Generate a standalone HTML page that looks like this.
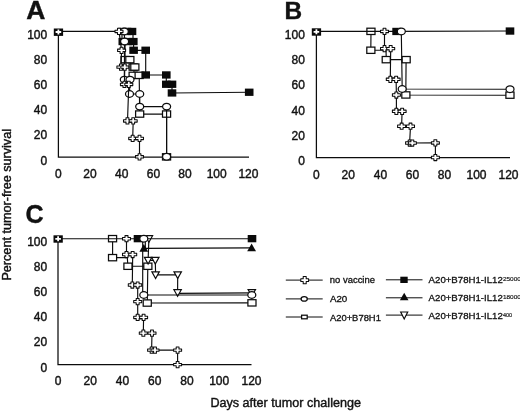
<!DOCTYPE html>
<html><head><meta charset="utf-8"><title>Figure</title>
<style>
html,body{margin:0;padding:0;background:#fff;}
body{width:520px;height:411px;overflow:hidden;}
svg{display:block;will-change:transform;}
svg text{font-family:"Liberation Sans",sans-serif;fill:#111;stroke:#111;stroke-width:0.4px;}
</style></head><body>
<svg width="520" height="411" viewBox="0 0 520 411">
<rect width="520" height="411" fill="#fff"/>
<polyline points="58.4,31.4 58.4,157.0 249.0,157.0" fill="none" stroke="#0c0c0c" stroke-width="1.25"/>
<polyline points="316.4,31.4 316.4,157.6 510.0,157.6" fill="none" stroke="#0c0c0c" stroke-width="1.25"/>
<polyline points="58.0,238.7 58.0,364.6 251.5,364.6" fill="none" stroke="#0c0c0c" stroke-width="1.25"/>
<polyline points="122.0,31.4 122.0,41.5 125.0,41.5 125.0,59.6 129.8,59.6 131.5,67.1 133.2,67.1 134.8,67.1 133.2,75.4 139.2,75.4 139.7,114.1 166.6,114.1 166.6,156.8" fill="none" stroke="#0c0c0c" stroke-width="1.15"/>
<rect x="121.0" y="56.5" width="8.1" height="6.3" fill="#fff" stroke="#0c0c0c" stroke-width="1.25"/><rect x="125.8" y="56.5" width="8.1" height="6.3" fill="#fff" stroke="#0c0c0c" stroke-width="1.25"/><rect x="129.1" y="63.9" width="8.1" height="6.3" fill="#fff" stroke="#0c0c0c" stroke-width="1.25"/><rect x="130.8" y="63.9" width="8.1" height="6.3" fill="#fff" stroke="#0c0c0c" stroke-width="1.25"/><rect x="129.1" y="72.2" width="8.1" height="6.3" fill="#fff" stroke="#0c0c0c" stroke-width="1.25"/><rect x="135.1" y="72.2" width="8.1" height="6.3" fill="#fff" stroke="#0c0c0c" stroke-width="1.25"/><rect x="135.6" y="110.9" width="8.1" height="6.3" fill="#fff" stroke="#0c0c0c" stroke-width="1.25"/><rect x="162.5" y="110.9" width="8.1" height="6.3" fill="#fff" stroke="#0c0c0c" stroke-width="1.25"/><rect x="162.5" y="153.7" width="8.1" height="6.3" fill="#fff" stroke="#0c0c0c" stroke-width="1.25"/>
<polyline points="58.4,31.4 122.5,31.4 127.0,31.4 132.0,31.4 133.0,31.4 133.0,41.5 133.6,41.5 133.6,50.3 145.7,50.3 145.7,75.0 166.3,75.0 166.3,84.3 172.0,84.3 172.0,93.0 249.2,92.3" fill="none" stroke="#0c0c0c" stroke-width="1.15"/>
<rect x="118.2" y="27.8" width="8.6" height="7.3" fill="#0a0a0a"/><rect x="122.7" y="27.8" width="8.6" height="7.3" fill="#0a0a0a"/><rect x="127.7" y="27.8" width="8.6" height="7.3" fill="#0a0a0a"/><rect x="118.5" y="37.9" width="8.6" height="7.3" fill="#0a0a0a"/><rect x="123.2" y="37.9" width="8.6" height="7.3" fill="#0a0a0a"/><rect x="129.0" y="37.9" width="8.6" height="7.3" fill="#0a0a0a"/><rect x="129.3" y="46.6" width="8.6" height="7.3" fill="#0a0a0a"/><rect x="141.4" y="46.6" width="8.6" height="7.3" fill="#0a0a0a"/><rect x="141.4" y="71.3" width="8.6" height="7.3" fill="#0a0a0a"/><rect x="162.0" y="71.3" width="8.6" height="7.3" fill="#0a0a0a"/><rect x="162.0" y="80.6" width="8.6" height="7.3" fill="#0a0a0a"/><rect x="167.7" y="80.6" width="8.6" height="7.3" fill="#0a0a0a"/><rect x="167.7" y="89.3" width="8.6" height="7.3" fill="#0a0a0a"/><rect x="244.9" y="88.6" width="8.6" height="7.3" fill="#0a0a0a"/>
<polyline points="124.3,31.4 124.6,41.5 124.3,79.6 130.0,79.6 129.5,94.0 139.7,94.0 139.7,106.6 166.6,106.6 166.6,156.8" fill="none" stroke="#0c0c0c" stroke-width="1.15"/>
<ellipse cx="124.3" cy="31.4" rx="4.00" ry="3.35" fill="#fff" stroke="#0c0c0c" stroke-width="1.25"/><ellipse cx="124.6" cy="41.5" rx="4.00" ry="3.35" fill="#fff" stroke="#0c0c0c" stroke-width="1.25"/><ellipse cx="124.3" cy="79.6" rx="4.00" ry="3.35" fill="#fff" stroke="#0c0c0c" stroke-width="1.25"/><ellipse cx="130.0" cy="79.6" rx="4.00" ry="3.35" fill="#fff" stroke="#0c0c0c" stroke-width="1.25"/><ellipse cx="129.5" cy="94.0" rx="4.00" ry="3.35" fill="#fff" stroke="#0c0c0c" stroke-width="1.25"/><ellipse cx="139.7" cy="94.0" rx="4.00" ry="3.35" fill="#fff" stroke="#0c0c0c" stroke-width="1.25"/><ellipse cx="139.7" cy="106.6" rx="4.00" ry="3.35" fill="#fff" stroke="#0c0c0c" stroke-width="1.25"/><ellipse cx="166.6" cy="106.6" rx="4.00" ry="3.35" fill="#fff" stroke="#0c0c0c" stroke-width="1.25"/><ellipse cx="166.6" cy="156.8" rx="4.00" ry="3.35" fill="#fff" stroke="#0c0c0c" stroke-width="1.25"/>
<polyline points="119.0,31.4 121.6,50.3 120.9,67.1 124.8,67.1 124.4,84.4 128.8,84.4 127.5,120.9 133.2,120.9 132.7,138.4 139.5,138.4 139.5,156.8" fill="none" stroke="#0c0c0c" stroke-width="1.15"/>
<polygon points="117.5,28.3 120.5,28.3 120.5,30.2 123.0,30.2 123.0,32.6 120.5,32.6 120.5,34.5 117.5,34.5 117.5,32.6 115.0,32.6 115.0,30.2 117.5,30.2" fill="#fff" stroke="#0c0c0c" stroke-width="1.05" stroke-linejoin="round"/><polygon points="120.1,47.2 123.0,47.2 123.0,49.1 125.6,49.1 125.6,51.5 123.0,51.5 123.0,53.4 120.1,53.4 120.1,51.5 117.6,51.5 117.6,49.1 120.1,49.1" fill="#fff" stroke="#0c0c0c" stroke-width="1.05" stroke-linejoin="round"/><polygon points="119.5,64.0 122.4,64.0 122.4,65.9 124.9,65.9 124.9,68.3 122.4,68.3 122.4,70.2 119.5,70.2 119.5,68.3 116.9,68.3 116.9,65.9 119.5,65.9" fill="#fff" stroke="#0c0c0c" stroke-width="1.05" stroke-linejoin="round"/><polygon points="123.3,64.0 126.2,64.0 126.2,65.9 128.8,65.9 128.8,68.3 126.2,68.3 126.2,70.2 123.3,70.2 123.3,68.3 120.8,68.3 120.8,65.9 123.3,65.9" fill="#fff" stroke="#0c0c0c" stroke-width="1.05" stroke-linejoin="round"/><polygon points="123.0,81.3 125.9,81.3 125.9,83.2 128.4,83.2 128.4,85.6 125.9,85.6 125.9,87.5 123.0,87.5 123.0,85.6 120.4,85.6 120.4,83.2 123.0,83.2" fill="#fff" stroke="#0c0c0c" stroke-width="1.05" stroke-linejoin="round"/><polygon points="127.4,81.3 130.2,81.3 130.2,83.2 132.8,83.2 132.8,85.6 130.2,85.6 130.2,87.5 127.4,87.5 127.4,85.6 124.8,85.6 124.8,83.2 127.4,83.2" fill="#fff" stroke="#0c0c0c" stroke-width="1.05" stroke-linejoin="round"/><polygon points="126.0,117.8 128.9,117.8 128.9,119.7 131.5,119.7 131.5,122.1 128.9,122.1 128.9,124.0 126.0,124.0 126.0,122.1 123.5,122.1 123.5,119.7 126.0,119.7" fill="#fff" stroke="#0c0c0c" stroke-width="1.05" stroke-linejoin="round"/><polygon points="131.8,117.8 134.6,117.8 134.6,119.7 137.2,119.7 137.2,122.1 134.6,122.1 134.6,124.0 131.8,124.0 131.8,122.1 129.2,122.1 129.2,119.7 131.8,119.7" fill="#fff" stroke="#0c0c0c" stroke-width="1.05" stroke-linejoin="round"/><polygon points="131.2,135.3 134.1,135.3 134.1,137.2 136.7,137.2 136.7,139.6 134.1,139.6 134.1,141.5 131.2,141.5 131.2,139.6 128.7,139.6 128.7,137.2 131.2,137.2" fill="#fff" stroke="#0c0c0c" stroke-width="1.05" stroke-linejoin="round"/><polygon points="138.1,135.3 140.9,135.3 140.9,137.2 143.5,137.2 143.5,139.6 140.9,139.6 140.9,141.5 138.1,141.5 138.1,139.6 135.5,139.6 135.5,137.2 138.1,137.2" fill="#fff" stroke="#0c0c0c" stroke-width="1.05" stroke-linejoin="round"/><polygon points="138.1,153.7 140.9,153.7 140.9,155.6 143.5,155.6 143.5,158.0 140.9,158.0 140.9,159.9 138.1,159.9 138.1,158.0 135.5,158.0 135.5,155.6 138.1,155.6" fill="#fff" stroke="#0c0c0c" stroke-width="1.05" stroke-linejoin="round"/>
<polyline points="371.0,31.4 370.8,50.2 386.0,50.2 386.3,59.6 406.1,59.6 405.8,95.0 510.0,95.2" fill="none" stroke="#0c0c0c" stroke-width="1.15"/>
<rect x="366.9" y="28.2" width="8.1" height="6.3" fill="#fff" stroke="#0c0c0c" stroke-width="1.25"/><rect x="366.8" y="47.1" width="8.1" height="6.3" fill="#fff" stroke="#0c0c0c" stroke-width="1.25"/><rect x="382.2" y="56.5" width="8.1" height="6.3" fill="#fff" stroke="#0c0c0c" stroke-width="1.25"/><rect x="402.1" y="56.5" width="8.1" height="6.3" fill="#fff" stroke="#0c0c0c" stroke-width="1.25"/><rect x="401.8" y="91.8" width="8.1" height="6.3" fill="#fff" stroke="#0c0c0c" stroke-width="1.25"/><rect x="505.9" y="92.0" width="8.1" height="6.3" fill="#fff" stroke="#0c0c0c" stroke-width="1.25"/>
<polyline points="316.4,31.4 396.6,31.4 510.0,31.0" fill="none" stroke="#0c0c0c" stroke-width="1.15"/>
<rect x="392.3" y="27.8" width="8.6" height="7.3" fill="#0a0a0a"/><rect x="505.7" y="27.4" width="8.6" height="7.3" fill="#0a0a0a"/>
<polyline points="401.3,31.4 402.2,89.0 510.0,89.2" fill="none" stroke="#0c0c0c" stroke-width="1.15"/>
<ellipse cx="401.3" cy="31.4" rx="4.00" ry="3.35" fill="#fff" stroke="#0c0c0c" stroke-width="1.25"/><ellipse cx="402.2" cy="89.0" rx="4.00" ry="3.35" fill="#fff" stroke="#0c0c0c" stroke-width="1.25"/><ellipse cx="510.0" cy="89.2" rx="4.00" ry="3.35" fill="#fff" stroke="#0c0c0c" stroke-width="1.25"/>
<polyline points="384.5,31.4 384.5,48.6 390.7,48.6 390.3,79.3 396.1,79.3 396.4,95.0 396.4,111.3 402.1,111.3 401.6,126.2 410.5,126.2 409.6,143.0 435.4,142.9 435.4,157.5" fill="none" stroke="#0c0c0c" stroke-width="1.15"/>
<polygon points="383.1,28.3 385.9,28.3 385.9,30.2 388.5,30.2 388.5,32.6 385.9,32.6 385.9,34.5 383.1,34.5 383.1,32.6 380.5,32.6 380.5,30.2 383.1,30.2" fill="#fff" stroke="#0c0c0c" stroke-width="1.05" stroke-linejoin="round"/><polygon points="383.1,45.5 385.9,45.5 385.9,47.4 388.5,47.4 388.5,49.8 385.9,49.8 385.9,51.7 383.1,51.7 383.1,49.8 380.5,49.8 380.5,47.4 383.1,47.4" fill="#fff" stroke="#0c0c0c" stroke-width="1.05" stroke-linejoin="round"/><polygon points="389.2,45.5 392.1,45.5 392.1,47.4 394.7,47.4 394.7,49.8 392.1,49.8 392.1,51.7 389.2,51.7 389.2,49.8 386.7,49.8 386.7,47.4 389.2,47.4" fill="#fff" stroke="#0c0c0c" stroke-width="1.05" stroke-linejoin="round"/><polygon points="388.9,76.2 391.8,76.2 391.8,78.1 394.3,78.1 394.3,80.5 391.8,80.5 391.8,82.4 388.9,82.4 388.9,80.5 386.3,80.5 386.3,78.1 388.9,78.1" fill="#fff" stroke="#0c0c0c" stroke-width="1.05" stroke-linejoin="round"/><polygon points="394.7,76.2 397.6,76.2 397.6,78.1 400.1,78.1 400.1,80.5 397.6,80.5 397.6,82.4 394.7,82.4 394.7,80.5 392.1,80.5 392.1,78.1 394.7,78.1" fill="#fff" stroke="#0c0c0c" stroke-width="1.05" stroke-linejoin="round"/><polygon points="394.9,91.9 397.8,91.9 397.8,93.8 400.4,93.8 400.4,96.2 397.8,96.2 397.8,98.1 394.9,98.1 394.9,96.2 392.4,96.2 392.4,93.8 394.9,93.8" fill="#fff" stroke="#0c0c0c" stroke-width="1.05" stroke-linejoin="round"/><polygon points="394.9,108.2 397.8,108.2 397.8,110.1 400.4,110.1 400.4,112.5 397.8,112.5 397.8,114.4 394.9,114.4 394.9,112.5 392.4,112.5 392.4,110.1 394.9,110.1" fill="#fff" stroke="#0c0c0c" stroke-width="1.05" stroke-linejoin="round"/><polygon points="400.7,108.2 403.6,108.2 403.6,110.1 406.1,110.1 406.1,112.5 403.6,112.5 403.6,114.4 400.7,114.4 400.7,112.5 398.1,112.5 398.1,110.1 400.7,110.1" fill="#fff" stroke="#0c0c0c" stroke-width="1.05" stroke-linejoin="round"/><polygon points="400.2,123.1 403.1,123.1 403.1,125.0 405.6,125.0 405.6,127.4 403.1,127.4 403.1,129.3 400.2,129.3 400.2,127.4 397.6,127.4 397.6,125.0 400.2,125.0" fill="#fff" stroke="#0c0c0c" stroke-width="1.05" stroke-linejoin="round"/><polygon points="409.1,123.1 411.9,123.1 411.9,125.0 414.5,125.0 414.5,127.4 411.9,127.4 411.9,129.3 409.1,129.3 409.1,127.4 406.5,127.4 406.5,125.0 409.1,125.0" fill="#fff" stroke="#0c0c0c" stroke-width="1.05" stroke-linejoin="round"/><polygon points="408.2,139.9 411.1,139.9 411.1,141.8 413.6,141.8 413.6,144.2 411.1,144.2 411.1,146.1 408.2,146.1 408.2,144.2 405.6,144.2 405.6,141.8 408.2,141.8" fill="#fff" stroke="#0c0c0c" stroke-width="1.05" stroke-linejoin="round"/><polygon points="410.9,139.9 413.8,139.9 413.8,141.8 416.4,141.8 416.4,144.2 413.8,144.2 413.8,146.1 410.9,146.1 410.9,144.2 408.4,144.2 408.4,141.8 410.9,141.8" fill="#fff" stroke="#0c0c0c" stroke-width="1.05" stroke-linejoin="round"/><polygon points="433.9,139.8 436.8,139.8 436.8,141.7 439.4,141.7 439.4,144.1 436.8,144.1 436.8,146.0 433.9,146.0 433.9,144.1 431.4,144.1 431.4,141.7 433.9,141.7" fill="#fff" stroke="#0c0c0c" stroke-width="1.05" stroke-linejoin="round"/><polygon points="433.9,154.4 436.8,154.4 436.8,156.3 439.4,156.3 439.4,158.7 436.8,158.7 436.8,160.6 433.9,160.6 433.9,158.7 431.4,158.7 431.4,156.3 433.9,156.3" fill="#fff" stroke="#0c0c0c" stroke-width="1.05" stroke-linejoin="round"/>
<polyline points="112.6,238.7 112.6,257.6 127.3,257.6 127.9,266.2 147.8,266.2 147.3,303.0 252.0,302.8" fill="none" stroke="#0c0c0c" stroke-width="1.15"/>
<rect x="108.5" y="235.5" width="8.1" height="6.3" fill="#fff" stroke="#0c0c0c" stroke-width="1.25"/><rect x="108.5" y="254.5" width="8.1" height="6.3" fill="#fff" stroke="#0c0c0c" stroke-width="1.25"/><rect x="123.9" y="263.1" width="8.1" height="6.3" fill="#fff" stroke="#0c0c0c" stroke-width="1.25"/><rect x="143.8" y="263.1" width="8.1" height="6.3" fill="#fff" stroke="#0c0c0c" stroke-width="1.25"/><rect x="143.2" y="299.9" width="8.1" height="6.3" fill="#fff" stroke="#0c0c0c" stroke-width="1.25"/><rect x="247.9" y="299.7" width="8.1" height="6.3" fill="#fff" stroke="#0c0c0c" stroke-width="1.25"/>
<polyline points="148.9,238.7 148.1,260.4 155.3,260.4 155.6,274.9 177.7,274.9 177.6,293.3 252.0,292.9" fill="none" stroke="#0c0c0c" stroke-width="1.15"/>
<polygon points="145.2,235.7 152.6,235.7 148.9,242.3" fill="#fff" stroke="#0c0c0c" stroke-width="1.2"/><polygon points="144.4,257.4 151.8,257.4 148.1,264.0" fill="#fff" stroke="#0c0c0c" stroke-width="1.2"/><polygon points="151.6,257.4 159.0,257.4 155.3,264.0" fill="#fff" stroke="#0c0c0c" stroke-width="1.2"/><polygon points="151.9,271.9 159.3,271.9 155.6,278.5" fill="#fff" stroke="#0c0c0c" stroke-width="1.2"/><polygon points="174.0,271.9 181.4,271.9 177.7,278.5" fill="#fff" stroke="#0c0c0c" stroke-width="1.2"/><polygon points="173.9,289.7 181.3,289.7 177.6,296.3" fill="#fff" stroke="#0c0c0c" stroke-width="1.2"/><polygon points="248.1,289.6 255.5,289.6 251.8,296.2" fill="#fff" stroke="#0c0c0c" stroke-width="1.2"/>
<polyline points="58.0,238.7 138.0,238.7 252.0,238.7" fill="none" stroke="#0c0c0c" stroke-width="1.15"/>
<rect x="133.7" y="235.0" width="8.6" height="7.3" fill="#0a0a0a"/><rect x="247.7" y="235.0" width="8.6" height="7.3" fill="#0a0a0a"/>
<polyline points="145.3,238.7 145.3,248.3 251.6,247.8" fill="none" stroke="#0c0c0c" stroke-width="1.15"/>
<polygon points="143.8,244.1 148.2,251.7 139.4,251.7" fill="#0a0a0a"/><polygon points="251.6,243.6 256.0,251.2 247.2,251.2" fill="#0a0a0a"/>
<polyline points="142.7,238.7 142.7,295.0 251.8,295.0" fill="none" stroke="#0c0c0c" stroke-width="1.15"/>
<ellipse cx="143.8" cy="238.7" rx="4.00" ry="3.35" fill="#fff" stroke="#0c0c0c" stroke-width="1.25"/><ellipse cx="143.8" cy="295.0" rx="4.00" ry="3.35" fill="#fff" stroke="#0c0c0c" stroke-width="1.25"/><ellipse cx="251.8" cy="295.0" rx="4.00" ry="3.35" fill="#fff" stroke="#0c0c0c" stroke-width="1.25"/>
<polyline points="126.5,238.7 126.5,254.5 132.7,254.5 132.3,285.0 137.7,285.0 137.7,301.6 137.7,317.4 143.6,317.4 143.3,333.1 152.0,333.1 151.6,350.1 177.6,350.1 177.6,364.6" fill="none" stroke="#0c0c0c" stroke-width="1.15"/>
<polygon points="125.0,235.6 128.0,235.6 128.0,237.5 130.5,237.5 130.5,239.9 128.0,239.9 128.0,241.8 125.0,241.8 125.0,239.9 122.5,239.9 122.5,237.5 125.0,237.5" fill="#fff" stroke="#0c0c0c" stroke-width="1.05" stroke-linejoin="round"/><polygon points="125.0,251.4 128.0,251.4 128.0,253.3 130.5,253.3 130.5,255.7 128.0,255.7 128.0,257.6 125.0,257.6 125.0,255.7 122.5,255.7 122.5,253.3 125.0,253.3" fill="#fff" stroke="#0c0c0c" stroke-width="1.05" stroke-linejoin="round"/><polygon points="131.2,251.4 134.1,251.4 134.1,253.3 136.7,253.3 136.7,255.7 134.1,255.7 134.1,257.6 131.2,257.6 131.2,255.7 128.7,255.7 128.7,253.3 131.2,253.3" fill="#fff" stroke="#0c0c0c" stroke-width="1.05" stroke-linejoin="round"/><polygon points="130.9,281.9 133.8,281.9 133.8,283.8 136.3,283.8 136.3,286.2 133.8,286.2 133.8,288.1 130.9,288.1 130.9,286.2 128.3,286.2 128.3,283.8 130.9,283.8" fill="#fff" stroke="#0c0c0c" stroke-width="1.05" stroke-linejoin="round"/><polygon points="136.2,281.9 139.1,281.9 139.1,283.8 141.7,283.8 141.7,286.2 139.1,286.2 139.1,288.1 136.2,288.1 136.2,286.2 133.7,286.2 133.7,283.8 136.2,283.8" fill="#fff" stroke="#0c0c0c" stroke-width="1.05" stroke-linejoin="round"/><polygon points="136.2,298.5 139.1,298.5 139.1,300.4 141.7,300.4 141.7,302.8 139.1,302.8 139.1,304.7 136.2,304.7 136.2,302.8 133.7,302.8 133.7,300.4 136.2,300.4" fill="#fff" stroke="#0c0c0c" stroke-width="1.05" stroke-linejoin="round"/><polygon points="136.2,314.3 139.1,314.3 139.1,316.2 141.7,316.2 141.7,318.6 139.1,318.6 139.1,320.5 136.2,320.5 136.2,318.6 133.7,318.6 133.7,316.2 136.2,316.2" fill="#fff" stroke="#0c0c0c" stroke-width="1.05" stroke-linejoin="round"/><polygon points="142.2,314.3 145.0,314.3 145.0,316.2 147.6,316.2 147.6,318.6 145.0,318.6 145.0,320.5 142.2,320.5 142.2,318.6 139.6,318.6 139.6,316.2 142.2,316.2" fill="#fff" stroke="#0c0c0c" stroke-width="1.05" stroke-linejoin="round"/><polygon points="141.9,330.0 144.8,330.0 144.8,331.9 147.3,331.9 147.3,334.3 144.8,334.3 144.8,336.2 141.9,336.2 141.9,334.3 139.3,334.3 139.3,331.9 141.9,331.9" fill="#fff" stroke="#0c0c0c" stroke-width="1.05" stroke-linejoin="round"/><polygon points="150.6,330.0 153.4,330.0 153.4,331.9 156.0,331.9 156.0,334.3 153.4,334.3 153.4,336.2 150.6,336.2 150.6,334.3 148.0,334.3 148.0,331.9 150.6,331.9" fill="#fff" stroke="#0c0c0c" stroke-width="1.05" stroke-linejoin="round"/><polygon points="150.2,347.0 153.0,347.0 153.0,348.9 155.6,348.9 155.6,351.3 153.0,351.3 153.0,353.2 150.2,353.2 150.2,351.3 147.6,351.3 147.6,348.9 150.2,348.9" fill="#fff" stroke="#0c0c0c" stroke-width="1.05" stroke-linejoin="round"/><polygon points="153.6,347.0 156.4,347.0 156.4,348.9 159.0,348.9 159.0,351.3 156.4,351.3 156.4,353.2 153.6,353.2 153.6,351.3 151.0,351.3 151.0,348.9 153.6,348.9" fill="#fff" stroke="#0c0c0c" stroke-width="1.05" stroke-linejoin="round"/><polygon points="176.2,347.0 179.0,347.0 179.0,348.9 181.6,348.9 181.6,351.3 179.0,351.3 179.0,353.2 176.2,353.2 176.2,351.3 173.6,351.3 173.6,348.9 176.2,348.9" fill="#fff" stroke="#0c0c0c" stroke-width="1.05" stroke-linejoin="round"/><polygon points="176.2,361.5 179.0,361.5 179.0,363.4 181.6,363.4 181.6,365.8 179.0,365.8 179.0,367.7 176.2,367.7 176.2,365.8 173.6,365.8 173.6,363.4 176.2,363.4" fill="#fff" stroke="#0c0c0c" stroke-width="1.05" stroke-linejoin="round"/>
<rect x="53.8" y="28.5" width="9.3" height="7.4" fill="#0a0a0a"/>
<path d="M55.6 32.0h5.6M58.4 29.5v5" stroke="#fff" stroke-width="1.8" fill="none"/>
<rect x="311.8" y="28.3" width="9.3" height="7.4" fill="#0a0a0a"/>
<path d="M313.6 31.8h5.6M316.4 29.3v5" stroke="#fff" stroke-width="1.8" fill="none"/>
<rect x="53.5" y="235.3" width="9.3" height="7.4" fill="#0a0a0a"/>
<path d="M55.3 238.8h5.6M58.1 236.3v5" stroke="#fff" stroke-width="1.8" fill="none"/>
<line x1="285.8" y1="280.1" x2="322.7" y2="280.1" stroke="#0c0c0c" stroke-width="1"/>
<polygon points="303.2,276.5 306.2,276.5 306.2,278.7 308.6,278.7 308.6,281.5 306.2,281.5 306.2,283.7 303.2,283.7 303.2,281.5 300.8,281.5 300.8,278.7 303.2,278.7" fill="#fff" stroke="#0c0c0c" stroke-width="1.05" stroke-linejoin="round"/>
<line x1="285.8" y1="298.9" x2="322.7" y2="298.9" stroke="#0c0c0c" stroke-width="1"/>
<ellipse cx="304.2" cy="298.9" rx="3.10" ry="2.20" fill="#fff" stroke="#0c0c0c" stroke-width="1.25"/>
<line x1="285.8" y1="317.0" x2="322.7" y2="317.0" stroke="#0c0c0c" stroke-width="1"/>
<rect x="301.6" y="315.2" width="5.6" height="3.6" fill="#fff" stroke="#0c0c0c" stroke-width="1.25"/>
<line x1="385.9" y1="279.8" x2="422.5" y2="279.8" stroke="#0c0c0c" stroke-width="1"/>
<rect x="400.3" y="276.7" width="7.4" height="6.3" fill="#0a0a0a"/>
<line x1="385.9" y1="297.8" x2="422.5" y2="297.8" stroke="#0c0c0c" stroke-width="1"/>
<polygon points="404.2,292.8 408.5,300.2 399.9,300.2" fill="#0a0a0a"/>
<line x1="385.9" y1="315.1" x2="422.5" y2="315.1" stroke="#0c0c0c" stroke-width="1"/>
<polygon points="400.7,312.0 407.7,312.0 404.2,319.0" fill="#fff" stroke="#0c0c0c" stroke-width="1.2"/>
<text x="47.2" y="164.6" font-size="12.00" text-anchor="end" font-weight="normal" >0</text>
<text x="47.2" y="139.4" font-size="12.00" text-anchor="end" font-weight="normal" >20</text>
<text x="47.2" y="114.3" font-size="12.00" text-anchor="end" font-weight="normal" >40</text>
<text x="47.2" y="89.1" font-size="12.00" text-anchor="end" font-weight="normal" >60</text>
<text x="47.2" y="64.0" font-size="12.00" text-anchor="end" font-weight="normal" >80</text>
<text x="47.2" y="38.8" font-size="12.00" text-anchor="end" font-weight="normal" >100</text>
<text x="304.9" y="165.4" font-size="12.00" text-anchor="end" font-weight="normal" >0</text>
<text x="304.9" y="140.1" font-size="12.00" text-anchor="end" font-weight="normal" >20</text>
<text x="304.9" y="114.8" font-size="12.00" text-anchor="end" font-weight="normal" >40</text>
<text x="304.9" y="89.4" font-size="12.00" text-anchor="end" font-weight="normal" >60</text>
<text x="304.9" y="64.1" font-size="12.00" text-anchor="end" font-weight="normal" >80</text>
<text x="304.9" y="38.8" font-size="12.00" text-anchor="end" font-weight="normal" >100</text>
<text x="47.2" y="371.6" font-size="12.00" text-anchor="end" font-weight="normal" >0</text>
<text x="47.2" y="346.4" font-size="12.00" text-anchor="end" font-weight="normal" >20</text>
<text x="47.2" y="321.2" font-size="12.00" text-anchor="end" font-weight="normal" >40</text>
<text x="47.2" y="296.1" font-size="12.00" text-anchor="end" font-weight="normal" >60</text>
<text x="47.2" y="270.9" font-size="12.00" text-anchor="end" font-weight="normal" >80</text>
<text x="47.2" y="245.7" font-size="12.00" text-anchor="end" font-weight="normal" >100</text>
<text x="58.3" y="177.6" font-size="12.00" text-anchor="middle" font-weight="normal" >0</text>
<text x="90.0" y="177.6" font-size="12.00" text-anchor="middle" font-weight="normal" >20</text>
<text x="121.7" y="177.6" font-size="12.00" text-anchor="middle" font-weight="normal" >40</text>
<text x="153.4" y="177.6" font-size="12.00" text-anchor="middle" font-weight="normal" >60</text>
<text x="185.0" y="177.6" font-size="12.00" text-anchor="middle" font-weight="normal" >80</text>
<text x="216.7" y="177.6" font-size="12.00" text-anchor="middle" font-weight="normal" >100</text>
<text x="248.4" y="177.6" font-size="12.00" text-anchor="middle" font-weight="normal" >120</text>
<text x="316.3" y="178.5" font-size="12.00" text-anchor="middle" font-weight="normal" >0</text>
<text x="348.3" y="178.5" font-size="12.00" text-anchor="middle" font-weight="normal" >20</text>
<text x="380.4" y="178.5" font-size="12.00" text-anchor="middle" font-weight="normal" >40</text>
<text x="412.4" y="178.5" font-size="12.00" text-anchor="middle" font-weight="normal" >60</text>
<text x="444.4" y="178.5" font-size="12.00" text-anchor="middle" font-weight="normal" >80</text>
<text x="476.5" y="178.5" font-size="12.00" text-anchor="middle" font-weight="normal" >100</text>
<text x="508.5" y="178.5" font-size="12.00" text-anchor="middle" font-weight="normal" >120</text>
<text x="58.0" y="385.3" font-size="12.00" text-anchor="middle" font-weight="normal" >0</text>
<text x="90.2" y="385.3" font-size="12.00" text-anchor="middle" font-weight="normal" >20</text>
<text x="122.5" y="385.3" font-size="12.00" text-anchor="middle" font-weight="normal" >40</text>
<text x="154.8" y="385.3" font-size="12.00" text-anchor="middle" font-weight="normal" >60</text>
<text x="187.0" y="385.3" font-size="12.00" text-anchor="middle" font-weight="normal" >80</text>
<text x="219.2" y="385.3" font-size="12.00" text-anchor="middle" font-weight="normal" >100</text>
<text x="251.5" y="385.3" font-size="12.00" text-anchor="middle" font-weight="normal" >120</text>
<text transform="translate(26.2,18.9) scale(1.06,1)" font-size="25" font-weight="bold">A</text>
<text x="284.6" y="18.5" font-size="24.40" text-anchor="start" font-weight="bold" >B</text>
<text x="25.4" y="222.9" font-size="25.00" text-anchor="start" font-weight="bold" >C</text>
<text x="210.4" y="406.7" font-size="12.50" text-anchor="start" textLength="150.6" lengthAdjust="spacingAndGlyphs">Days after tumor challenge</text>
<text transform="translate(10.6,280.6) rotate(-90)" font-size="12.5" text-anchor="start" textLength="151.6" lengthAdjust="spacingAndGlyphs">Percent tumor-free survival</text>
<text x="329.8" y="283.4" font-size="9.30" text-anchor="start" textLength="45.2" lengthAdjust="spacingAndGlyphs" style="stroke-width:0.3px">no vaccine</text>
<text x="329.9" y="302.4" font-size="9.30" text-anchor="start" textLength="17.4" lengthAdjust="spacingAndGlyphs" style="stroke-width:0.3px">A20</text>
<text x="329.9" y="320.6" font-size="9.30" text-anchor="start" textLength="51.0" lengthAdjust="spacingAndGlyphs" style="stroke-width:0.3px">A20+B78H1</text>
<text x="428.6" y="283.3" font-size="9.30" text-anchor="start" textLength="74.2" lengthAdjust="spacingAndGlyphs" style="stroke-width:0.3px">A20+B78H1-IL12</text>
<text x="502.9" y="281.4" font-size="5.90" text-anchor="start" textLength="18.0" lengthAdjust="spacingAndGlyphs" style="stroke-width:0.15px">25000</text>
<text x="428.6" y="300.8" font-size="9.30" text-anchor="start" textLength="74.2" lengthAdjust="spacingAndGlyphs" style="stroke-width:0.3px">A20+B78H1-IL12</text>
<text x="502.9" y="298.9" font-size="5.90" text-anchor="start" textLength="18.0" lengthAdjust="spacingAndGlyphs" style="stroke-width:0.15px">18000</text>
<text x="428.6" y="319.2" font-size="9.30" text-anchor="start" textLength="74.2" lengthAdjust="spacingAndGlyphs" style="stroke-width:0.3px">A20+B78H1-IL12</text>
<text x="502.9" y="317.3" font-size="5.30" text-anchor="start" textLength="9.2" lengthAdjust="spacingAndGlyphs" style="stroke-width:0.15px">400</text>
</svg>
</body></html>
